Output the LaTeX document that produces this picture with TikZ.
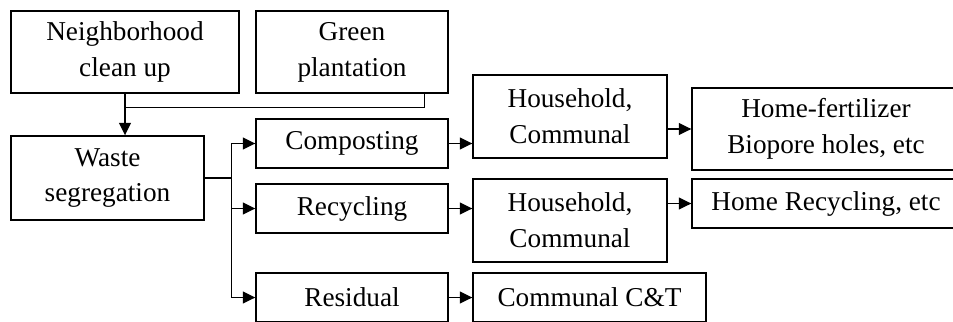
\documentclass[tikz,border=0pt]{standalone}
\usepackage{fontspec}
\setmainfont{Liberation Serif}
\usepackage{tikz}
\usetikzlibrary{positioning,arrows,arrows.meta,shapes}
\tikzstyle{blk}=[draw, minimum height = 1.64cm, minimum width=3.84cm, align=center, thick ]
\tikzstyle{blk1}=[draw, minimum height = 0.98cm, minimum width=3.84cm, align=center, thick ]
\begin{document}
\begin{tikzpicture}[node distance=2cm,auto,>={Triangle[length=0.25cm,width=0.24cm]},thick,font=\fontsize{15.5}{20.4}\selectfont]
\useasboundingbox (0,0) rectangle (19.06,-6.44);
\clip (0,0) rectangle (19.06,-6.44);

  \node[blk, minimum width=4.56cm] at (2.5,-1.04) (nbh) {Neighborhood\\clean up};
  \node[blk, right of = nbh, node distance = 4.54cm] (green) {Green\\plantation};

\node[blk, minimum width=3.86cm, minimum height=1.68cm, below of = nbh, node distance = 2.52cm, xshift=-0.35cm] (waste) {Waste\\segregation};
\draw[->] (nbh.south) -- ++(0,-0.28) coordinate (jn) -- (jn |- waste.north);
\draw ([xshift=-0.48cm]green.south east) |- (jn);

\node[blk1, below of = green, node distance = 1.83cm] (comp) {Composting};
\node[blk1, below of = comp, node distance = 1.30cm] (recy) {Recycling};
\node[blk1, below of = recy, node distance = 1.78cm] (resid) {Residual};

\draw (waste.east) -- ++(0.54,0) coordinate (bus);
\draw[->] (bus) |- (comp.west);
\draw[->] (bus) |- (recy.west);
\draw[->] (bus) |- (resid.west);

\node[blk, minimum width=3.88cm, minimum height=1.66cm, right of = comp, node distance = 4.36cm, yshift=0.54cm] (hh1) {Household,\\Communal};
\node[blk, minimum width=3.88cm, minimum height=1.66cm, right of = recy, node distance = 4.36cm, yshift=-0.24cm] (hh2) {Household,\\Communal};
\node[blk1, minimum width=4.66cm, right of = resid, node distance = 4.75cm] (cct) {Communal C\&T};

\draw[->] (comp.east) -- (comp.east -| hh1.west);
\draw[->] (recy.east) -- (recy.east -| hh2.west);
\draw[->] (resid) -- (cct);

\node[blk, minimum width=5.36cm, right of = hh1, node distance = 5.12cm, yshift=-0.25cm] (fert) {Home-fertilizer\\Biopore holes, etc};
\node[blk1, minimum width=5.36cm, right of = hh2, node distance = 5.12cm, yshift=0.34cm] (hrec) {Home Recycling, etc};

\draw[->] (hh1.east |- fert.west) -- (fert.west);
\draw[->] (hh2.east |- hrec.west) -- (hrec.west);
\end{tikzpicture}
\end{document}
